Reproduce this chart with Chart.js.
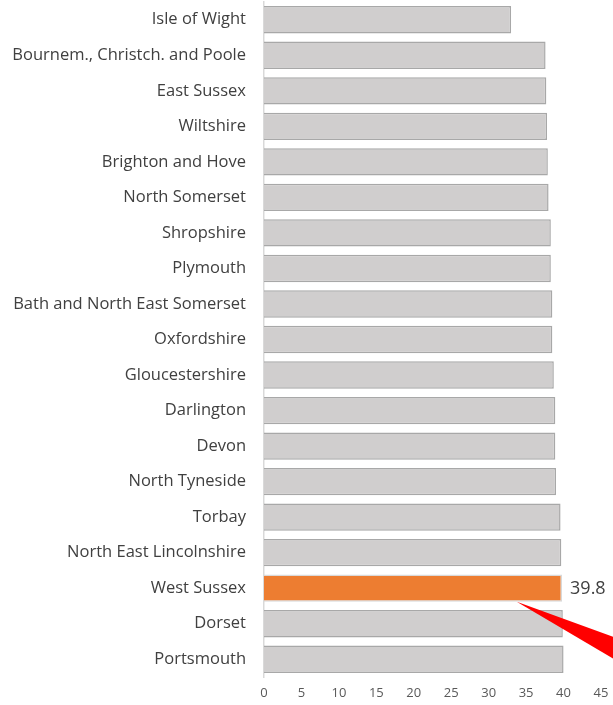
<!DOCTYPE html>
<html>
<head>
<meta charset="utf-8">
<script src="https://cdn.jsdelivr.net/npm/chart.js@4"></script>
<style>
    body { margin: 0; background: #fff; }
    #wrap { width: 613px; height: 705px; }
</style>
</head>
<body>
<div id="wrap"><canvas id="chart" width="613" height="705"></canvas></div>
<script>
const areas = [
    'Isle of Wight', 'Bournem., Christch. and Poole', 'East Sussex', 'Wiltshire',
    'Brighton and Hove', 'North Somerset', 'Shropshire', 'Plymouth',
    'Bath and North East Somerset', 'Oxfordshire', 'Gloucestershire', 'Darlington',
    'Devon', 'North Tyneside', 'Torbay', 'North East Lincolnshire',
    'West Sussex', 'Dorset', 'Portsmouth'
];
const values = [
    33.0, 37.6, 37.7, 37.8,
    37.9, 38.0, 38.3, 38.3,
    38.5, 38.5, 38.7, 38.9,
    38.9, 39.0, 39.6, 39.7,
    39.8, 39.9, 40.0
];
const highlight = 'West Sussex';
const arrowFrom = 33.75; // where the red pointer touches the highlighted bar

const grey = '#d0cece';
const orange = '#ed7d31';

// value label + red pointer on the highlighted bar
const highlightPlugin = {
    id: 'highlight',
    afterDatasetsDraw(chart) {
        const idx = areas.indexOf(highlight);
        const bar = chart.getDatasetMeta(0).data[idx];
        const ctx = chart.ctx;
        ctx.save();
        ctx.font = '18px "Open Sans", sans-serif';
        ctx.fillStyle = '#404040';
        ctx.textBaseline = 'middle';
        ctx.fillText(values[idx].toFixed(1), bar.x + 8, bar.y + 1);

        const tipX = chart.scales.x.getPixelForValue(arrowFrom);
        const tipY = bar.y + bar.height / 2;
        const far = 140;
        ctx.fillStyle = '#ff0000';
        ctx.beginPath();
        ctx.moveTo(tipX, tipY);
        ctx.lineTo(tipX + far, tipY + far * 0.363);
        ctx.lineTo(tipX + far, tipY + far * 0.589);
        ctx.closePath();
        ctx.fill();
        ctx.restore();
    }
};

new Chart(document.getElementById('chart'), {
    type: 'bar',
    data: {
        labels: areas,
        datasets: [{
            data: values,
            backgroundColor: areas.map(a => a === highlight ? orange : grey),
            borderColor: areas.map(a => a === highlight ? '#d9d9d9' : '#a8a8a8'),
            borderWidth: 1.5,
            categoryPercentage: 0.77,
            barPercentage: 1
        }]
    },
    options: {
        indexAxis: 'y',
        responsive: false,
        animation: false,
        layout: { padding: { left: 0, top: 2, right: 12, bottom: 0 } },
        scales: {
            x: {
                min: 0,
                max: 45,
                ticks: {
                    stepSize: 5,
                    color: '#595959',
                    font: { family: '"Open Sans", sans-serif', size: 13 },
                    padding: 0
                },
                grid: { display: false },
                border: { display: false },
                afterFit(scale) { scale.height = 28; }
            },
            y: {
                ticks: {
                    color: '#404040',
                    font: { family: '"Open Sans", sans-serif', size: 16.5 },
                    padding: 10
                },
                grid: { display: false },
                border: { color: '#d9d9d9', width: 1.5 },
                afterFit(scale) {
                    scale.width = 264;
                    scale.paddingTop = 0;
                    scale.paddingBottom = 0;
                }
            }
        },
        plugins: {
            legend: { display: false },
            tooltip: { enabled: false }
        }
    },
    plugins: [highlightPlugin]
});
</script>
</body>
</html>
